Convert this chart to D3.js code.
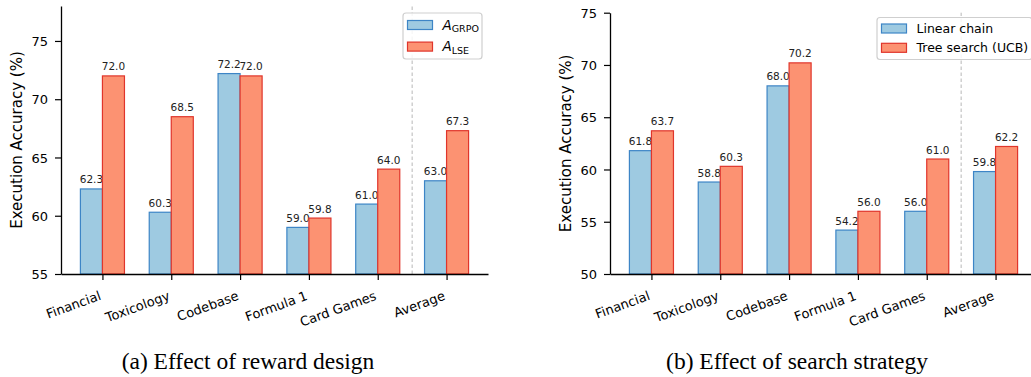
<!DOCTYPE html>
<html>
<head>
<meta charset="utf-8">
<script src="https://cdn.jsdelivr.net/npm/d3@7"></script>
<style>
  html, body { margin: 0; padding: 0; background: #ffffff; }
  svg { display: block; font-family: "DejaVu Sans", sans-serif; }
</style>
</head>
<body>
<svg id="chart" width="1031" height="377"></svg>
<script>
// ---------- data ----------
const categories = ["Financial", "Toxicology", "Codebase", "Formula 1", "Card Games", "Average"];
const rewardGRPO = [62.3, 60.3, 72.2, 59.0, 61.0, 63.0];
const rewardLSE  = [72.0, 68.5, 72.0, 59.8, 64.0, 67.3];
const searchLinear = [61.8, 58.8, 68.0, 54.2, 56.0, 59.8];
const searchTree   = [63.7, 60.3, 70.2, 56.0, 61.0, 62.2];
const yTicksA = [55, 60, 65, 70, 75];
const yTicksB = [50, 55, 60, 65, 70, 75];
const yDomainA = [55, 78];
const yDomainB = [50, 75];
const captionA = "(a) Effect of reward design";
const captionB = "(b) Effect of search strategy";
const legendB = ["Linear chain", "Tree search (UCB)"];
const yLabel = "Execution Accuracy (%)";

// ---------- style ----------
const blueFill = "#9ecae1", blueEdge = "#3d85c6";
const redFill = "#fc9272", redEdge = "#e0352b";
const barW = 0.32;
const SANS = "'DejaVu Sans', sans-serif";
const SERIF = "'Liberation Serif', 'Times New Roman', serif";

const svg = d3.select("#chart");

function panel(opts) {
  const g = svg.append("g");
  const x = d3.scaleLinear().domain([-0.602, 5.602]).range([opts.left, opts.left + 427]);
  const y = d3.scaleLinear().domain(opts.yDomain).range([274, opts.top]);

  // dashed separator before "Average"
  g.append("line")
    .attr("x1", x(4.5)).attr("x2", x(4.5))
    .attr("y1", y(opts.yDomain[0])).attr("y2", y(opts.yDomain[1]))
    .attr("stroke", "#b0b0b0").attr("stroke-width", 0.9)
    .attr("stroke-dasharray", "3.5,2.5");

  // bars
  const series = [
    {vals: opts.s1, fill: blueFill, edge: blueEdge, off: -barW},
    {vals: opts.s2, fill: redFill, edge: redEdge, off: 0}
  ];
  series.forEach(s => {
    g.append("g").selectAll("rect").data(s.vals).join("rect")
      .attr("x", (d, i) => x(i + s.off))
      .attr("width", x(barW) - x(0))
      .attr("y", d => y(d))
      .attr("height", d => y(opts.yDomain[0]) - y(d))
      .attr("fill", s.fill)
      .attr("stroke", s.edge)
      .attr("stroke-width", 1.2);
    g.append("g").selectAll("text").data(s.vals).join("text")
      .attr("x", (d, i) => x(i + s.off + barW / 2))
      .attr("y", d => y(d) - 5.5)
      .attr("text-anchor", "middle")
      .style("font-family", SANS)
      .style("font-size", "10.5px")
      .attr("fill", "#222")
      .text(d => d.toFixed(1));
  });

  // y axis
  const ya = g.append("g")
    .attr("transform", `translate(${opts.left},0)`)
    .call(d3.axisLeft(y).tickValues(opts.yTicks).tickSize(6).tickPadding(7).tickSizeOuter(0).tickFormat(d3.format("d")));
  ya.select(".domain").attr("stroke", "#000").attr("stroke-width", 1.3);
  ya.selectAll(".tick line").attr("stroke", "#000").attr("stroke-width", 1.2);
  ya.selectAll(".tick text").style("font-size", "13px").style("font-family", SANS).attr("fill", "#000").attr("dy", "0.36em");

  // x axis
  const xa = g.append("g")
    .attr("transform", `translate(0,274)`)
    .call(d3.axisBottom(x).tickValues(d3.range(categories.length)).tickSize(6).tickSizeOuter(0).tickFormat(i => categories[i]));
  xa.select(".domain").attr("stroke", "#000").attr("stroke-width", 1.3);
  xa.selectAll(".tick line").attr("stroke", "#000").attr("stroke-width", 1.2);
  const rot = 20, fs = 13, h = fs * 1.17;
  xa.selectAll(".tick text")
    .style("font-size", fs + "px").style("font-family", SANS).attr("fill", "#000")
    .attr("text-anchor", "end")
    .attr("x", 0).attr("y", 0).attr("dy", null)
    .attr("transform", `translate(${-h * Math.sin(rot * Math.PI / 180)},${14}) rotate(${-rot}) translate(0,${fs * 0.93})`);

  // y label
  g.append("text")
    .attr("transform", `translate(${opts.left - 39},${(274 + opts.top) / 2}) rotate(-90)`)
    .attr("text-anchor", "middle")
    .style("font-family", SANS)
    .style("font-size", "15px")
    .attr("fill", "#000")
    .text(yLabel);

  // caption
  g.append("text")
    .attr("x", opts.capX).attr("y", 369)
    .attr("text-anchor", "middle")
    .style("font-family", SERIF)
    .style("font-size", "23.5px")
    .attr("fill", "#000")
    .text(opts.caption);

  // legend
  const L = opts.legend;
  g.append("rect")
    .attr("x", L.x).attr("y", L.y).attr("width", L.w).attr("height", L.h)
    .attr("rx", 3).attr("fill", "#fff").attr("fill-opacity", 0.85)
    .attr("stroke", "#cfcfcf").attr("stroke-width", 1.2);
  [[blueFill, blueEdge], [redFill, redEdge]].forEach((c, k) => {
    const py = L.y + L.p0 + k * L.dy;
    g.append("rect")
      .attr("x", L.x + 4.5).attr("y", py).attr("width", 25).attr("height", 9)
      .attr("fill", c[0]).attr("stroke", c[1]).attr("stroke-width", 1.2);
    const t = g.append("text")
      .attr("x", L.x + 39.5).attr("y", py + 9)
      .style("font-family", SANS)
      .style("font-size", L.fs).attr("fill", "#000");
    L.label(t, k);
  });
  return {x, y};
}

panel({
  left: 61, top: 6, yDomain: yDomainA, yTicks: yTicksA,
  s1: rewardGRPO, s2: rewardLSE, caption: captionA, capX: 248,
  legend: {x: 403, y: 13, w: 79, h: 46, p0: 7.5, dy: 21.6, fs: "13.5px",
    label: (t, k) => {
      t.append("tspan").style("font-style", "italic").text("A");
      t.append("tspan").style("font-size", "9.5px").attr("dy", "2.6").text(k === 0 ? "GRPO" : "LSE");
    }}
});

panel({
  left: 610, top: 12.7, yDomain: yDomainB, yTicks: yTicksB,
  s1: searchLinear, s2: searchTree, caption: captionB, capX: 797,
  legend: {x: 877, y: 17.5, w: 155, h: 42, p0: 6.5, dy: 19.3, fs: "12.5px",
    label: (t, k) => { t.text(legendB[k]); }}
});
</script>
</body>
</html>
